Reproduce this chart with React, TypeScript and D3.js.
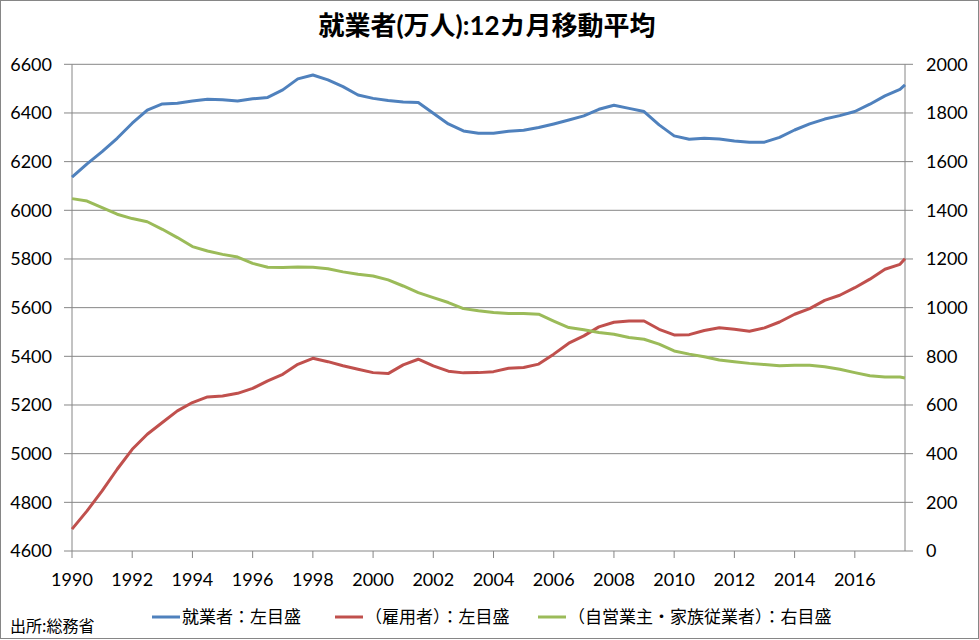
import React from 'react';
import * as d3 from 'd3';

// half-year samples of the 12-month moving average (last point = Sep 2017)
const periods = [
  '1990-01', '1990-07', '1991-01', '1991-07', '1992-01', '1992-07', '1993-01', '1993-07', '1994-01', '1994-07',
  '1995-01', '1995-07', '1996-01', '1996-07', '1997-01', '1997-07', '1998-01', '1998-07', '1999-01', '1999-07',
  '2000-01', '2000-07', '2001-01', '2001-07', '2002-01', '2002-07', '2003-01', '2003-07', '2004-01', '2004-07',
  '2005-01', '2005-07', '2006-01', '2006-07', '2007-01', '2007-07', '2008-01', '2008-07', '2009-01', '2009-07',
  '2010-01', '2010-07', '2011-01', '2011-07', '2012-01', '2012-07', '2013-01', '2013-07', '2014-01', '2014-07',
  '2015-01', '2015-07', '2016-01', '2016-07', '2017-01', '2017-07', '2017-09',
];

// 就業者 (left axis)
const employed = [
  6136, 6191, 6241, 6296, 6358, 6412, 6437, 6440, 6449, 6456,
  6454, 6449, 6458, 6464, 6495, 6540, 6556, 6536, 6508, 6474,
  6460, 6451, 6445, 6443, 6399, 6355, 6326, 6317, 6317, 6325,
  6329, 6340, 6355, 6371, 6388, 6415, 6432, 6419, 6406, 6351,
  6306, 6292, 6296, 6293, 6285, 6280, 6280, 6300, 6330, 6355,
  6375, 6389, 6406, 6436, 6470, 6497, 6515,
];

// 雇用者 (left axis)
const employees = [
  4690, 4765, 4847, 4936, 5018, 5080, 5128, 5176, 5210, 5233,
  5237, 5248, 5268, 5299, 5326, 5367, 5392, 5378, 5361, 5347,
  5333, 5329, 5365, 5388, 5361, 5339, 5332, 5333, 5337, 5351,
  5354, 5368, 5409, 5454, 5484, 5521, 5540, 5545, 5545, 5511,
  5488, 5489, 5506, 5517, 5511, 5503, 5517, 5541, 5573, 5596,
  5630, 5651, 5682, 5717, 5758, 5778, 5801,
];

// 自営業主・家族従業者 (right axis)
const selfEmployed = [
  1448, 1438, 1411, 1384, 1366, 1353, 1322, 1288, 1251, 1233,
  1219, 1208, 1182, 1166, 1165, 1167, 1166, 1160, 1147, 1137,
  1130, 1114, 1089, 1062, 1041, 1021, 996, 987, 980, 976,
  976, 973, 945, 918, 909, 898, 891, 877, 870, 850,
  822, 809, 798, 785, 778, 771, 766, 761, 763, 763,
  757, 747, 733, 720, 715, 715, 711,
];

const leftTicks = [4600, 4800, 5000, 5200, 5400, 5600, 5800, 6000, 6200, 6400, 6600];
const rightTicks = [0, 200, 400, 600, 800, 1000, 1200, 1400, 1600, 1800, 2000];
const yearTicks = [1990, 1992, 1994, 1996, 1998, 2000, 2002, 2004, 2006, 2008, 2010, 2012, 2014, 2016];

const W = 979;
const H = 640;
const left = 72;
const right = 905;
const top = 64.3;
const bottom = 551;
const font = "Lato, 'Noto Sans CJK JP', sans-serif";
const jpFont = "'Noto Sans CJK JP', sans-serif";
const gridColor = '#868686';

const toYear = (p: string) => {
  const [y, m] = p.split('-').map(Number);
  return y + (m - 1) / 12;
};

export default function App() {
  const xs = periods.map(toYear);
  const x = d3.scaleLinear().domain([1990, xs[xs.length - 1]]).range([left, right]);
  const yL = d3.scaleLinear().domain([4600, 6600]).range([bottom, top]);
  const yR = d3.scaleLinear().domain([0, 2000]).range([bottom, top]);

  const lineL = d3.line<number>().x((_, i) => x(xs[i])).y((d) => yL(d));
  const lineR = d3.line<number>().x((_, i) => x(xs[i])).y((d) => yR(d));

  const series = [
    { name: '就業者：左目盛', color: '#4F81BD', d: lineL(employed), lx: 152 },
    { name: '（雇用者）：左目盛', color: '#C0504D', d: lineL(employees), lx: 335 },
    { name: '（自営業主・家族従業者）：右目盛', color: '#9BBB59', d: lineR(selfEmployed), lx: 538 },
  ];

  return (
    <svg width={W} height={H} style={{ position: 'absolute', left: 0, top: 0, background: '#fff' }}>
      <rect x={0.5} y={0.5} width={W - 1} height={H - 2} fill="#fff" stroke={gridColor} />
      <text x={487} y={35} textAnchor="middle" fontFamily={font} fontWeight="bold" fontSize={26} fill="#000">
        就業者(万人):12カ月移動平均
      </text>

      {leftTicks.map((t) => (
        <g key={t}>
          <line x1={left - 8} x2={right + 8} y1={yL(t)} y2={yL(t)} stroke={gridColor} strokeWidth={1} />
          <text x={52} y={yL(t)} dy="0.36em" textAnchor="end" fontFamily={font} fontSize={18} fill="#000">
            {t}
          </text>
        </g>
      ))}
      {rightTicks.map((t) => (
        <text key={t} x={926} y={yR(t)} dy="0.36em" textAnchor="start" fontFamily={font} fontSize={18} fill="#000">
          {t}
        </text>
      ))}
      <line x1={left} x2={left} y1={top} y2={bottom} stroke={gridColor} />
      <line x1={right} x2={right} y1={top} y2={bottom} stroke={gridColor} />
      {yearTicks.map((t) => (
        <g key={t}>
          <line x1={x(t)} x2={x(t)} y1={bottom} y2={bottom + 7} stroke={gridColor} />
          <text x={x(t)} y={580} dy="0.36em" textAnchor="middle" fontFamily={font} fontSize={18} fill="#000">
            {t}
          </text>
        </g>
      ))}

      {series.map((s) => (
        <path key={s.name} d={s.d ?? ''} fill="none" stroke={s.color} strokeWidth={3} strokeLinejoin="round" />
      ))}

      {series.map((s) => (
        <g key={s.name + 'lg'}>
          <line x1={s.lx} x2={s.lx + 28} y1={617} y2={617} stroke={s.color} strokeWidth={3} />
          <text x={s.lx + 30} y={617} dy="0.36em" fontFamily={jpFont} fontSize={17} fill="#000">
            {s.name}
          </text>
        </g>
      ))}

      <text x={10} y={626} dy="0.36em" fontFamily={jpFont} fontSize={16} fill="#000">
        出所:総務省
      </text>
    </svg>
  );
}
